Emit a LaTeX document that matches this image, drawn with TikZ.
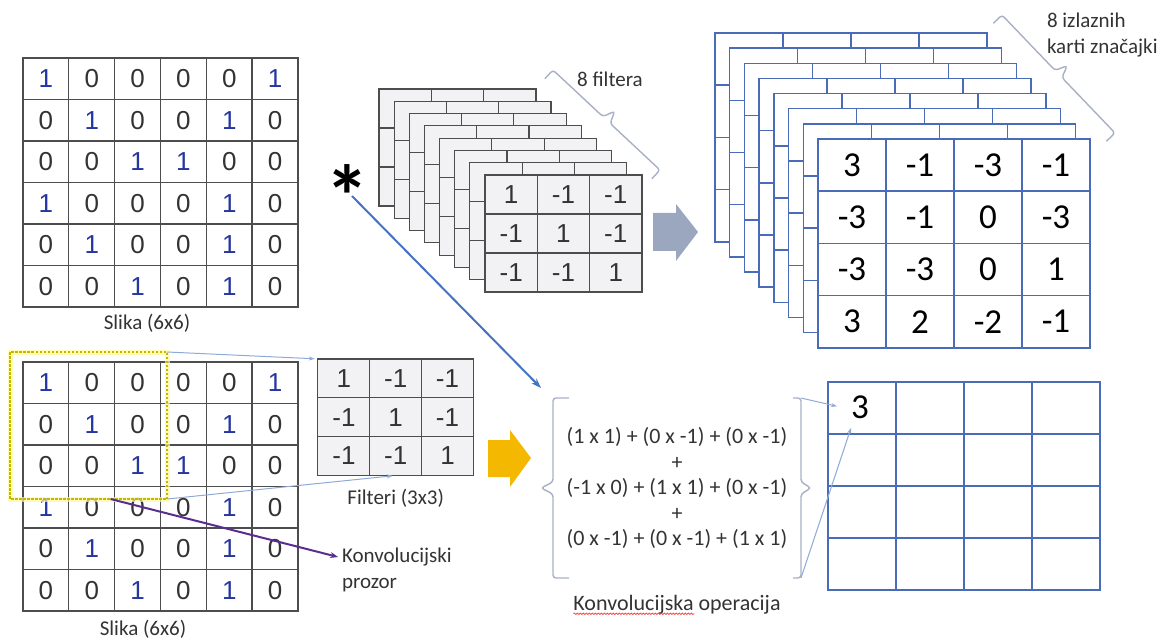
\documentclass[tikz,border=0pt]{standalone}
\usepackage{fontspec}
\setmainfont{Carlito}
\newfontfamily\arialfont{Liberation Sans}
\usetikzlibrary{arrows.meta,positioning,calc,decorations.pathmorphing}

\definecolor{gridgray}{HTML}{4D4D4D}
\definecolor{digitgray}{HTML}{333333}
\definecolor{oneblue}{HTML}{2536A0}
\definecolor{kfill}{HTML}{F2F2F5}
\definecolor{mapblue}{HTML}{4A6CB8}
\definecolor{linkblue}{HTML}{8FAAD6}
\definecolor{convblue}{HTML}{4472C4}
\definecolor{winpurple}{HTML}{5A2D91}
\definecolor{arrowgold}{HTML}{F5B800}
\definecolor{arrowslate}{HTML}{9BA6BF}
\definecolor{bracegray}{HTML}{A8B0C4}
\definecolor{wingold}{HTML}{C2B800}

\newcommand{\slikadata}{{1,0,0,0,0,1},{0,1,0,0,1,0},{0,0,1,1,0,0},{1,0,0,0,1,0},{0,1,0,0,1,0},{0,0,1,0,1,0}}
\newcommand{\filterdata}{{1,-1,-1},{-1,1,-1},{-1,-1,1}}
\newcommand{\mapdata}{{3,-1,-3,-1},{-3,-1,0,-3},{-3,-3,0,1},{3,2,-2,-1}}
\newcommand{\pix}[1]{\ifnum#1=1 \textcolor{oneblue}{#1}\else#1\fi}
% slanted brace between two named coordinates, tip pointing away from the stack
\newcommand{\stackbrace}[3]{%
  \coordinate (#3) at ($(#1)!0.5!(#2)$);
  \draw[bracket] ($(#1)!12pt!-90:(#2)$) -- (#1) -- ($(#3)!5pt!(#1)$) -- ($(#3)!12pt!90:(#2)$)
    -- ($(#3)!5pt!(#2)$) -- (#2) -- ($(#2)!12pt!90:(#1)$);}

\tikzset{
  every node/.style={inner sep=0pt, outer sep=0pt},
  pixcell/.style={draw=gridgray, line width=1.3pt, minimum width=45.8pt, minimum height=41.5pt,
    font=\arialfont\fontsize{26}{26}\selectfont, text=digitgray},
  kcell/.style={draw=gridgray, fill=kfill, line width=1.2pt, minimum width=52.3pt, minimum height=39pt,
    font=\arialfont\fontsize{26}{26}\selectfont, text=digitgray},
  mapcell/.style={draw=mapblue, fill=white, line width=1.5pt, minimum width=68pt, minimum height=52.2pt,
    font=\fontsize{35}{35}\selectfont},
  txt/.style={font=\fontsize{21}{26}\selectfont, text=black!80},
  link/.style={draw=linkblue, line width=1pt, -{Stealth[length=6pt,width=4pt]}, shorten >=3pt},
  convarrow/.style={draw=convblue, line width=2pt, -{Stealth[length=10pt,width=7pt]}},
  winarrow/.style={draw=winpurple, line width=2pt, -{Stealth[length=8pt,width=6pt]}, shorten >=4pt},
  bracket/.style={draw=bracegray, line width=1.4pt, rounded corners=3pt},
}

\begin{document}
\begin{tikzpicture}[x=1pt,y=-1pt]
  \useasboundingbox (0,0) rectangle (1165,639);

  % input image (top)
  \foreach \vals [count=\r] in \slikadata {
    \foreach \v [count=\c] in \vals {
      \node[pixcell] (top-\r-\c) at ({23+45.83*(\c-0.5)},{58+41.5*(\r-0.5)}) {\pix{\v}};
    }
  }
  \node[txt] (toplabel) at (147,323) {Slika (6x6)};

  % stack of 8 filters
  \foreach \k in {0,...,6} {
    \foreach \r in {1,2,3} {
      \foreach \c in {1,2,3} {
        \node[kcell] at ({379+15.14*\k+52.3*(\c-0.5)},{89+12.29*\k+39*(\r-0.5)}) {};
      }
    }
  }
  \foreach \vals [count=\r] in \filterdata {
    \foreach \v [count=\c] in \vals {
      \node[kcell] (f-\r-\c) at ({485+52.3*(\c-0.5)},{175+39*(\r-0.5)}) {\v};
    }
  }
  \coordinate (fbrace-a) at (553,70);
  \coordinate (fbrace-b) at (660,170);
  \stackbrace{fbrace-a}{fbrace-b}{fbrace-m}
  \node[txt] (filterlabel) at (610,79) {8 filtera};

  \node[anchor=north, font=\fontsize{88}{88}\selectfont\bfseries] (asterisk) at (347,165) {*};

  % gray block arrow
  \fill[arrowslate] (653,213) -- (676,213) -- (676,204) -- (698,232) -- (676,261) -- (676,251) -- (653,251) -- cycle;

  % stack of 8 feature maps
  \foreach \k in {0,...,6} {
    \foreach \r in {1,...,4} {
      \foreach \c in {1,...,4} {
        \node[mapcell] at ({715+14.71*\k+68*(\c-0.5)},{33+15.14*\k+52.2*(\r-0.5)}) {};
      }
    }
  }
  \foreach \vals [count=\r] in \mapdata {
    \foreach \v [count=\c] in \vals {
      \node[mapcell] (o-\r-\c) at ({818+68*(\c-0.5)},{139+52.2*(\r-0.5)}) {\v};
    }
  }
  \coordinate (obrace-a) at (1002,15);
  \coordinate (obrace-b) at (1115,133);
  \stackbrace{obrace-a}{obrace-b}{obrace-m}
  \node[txt, anchor=west, align=left] (maplabel) at (1047,35) {8 izlaznih\\karti značajki};

  % input image (bottom) with window
  \foreach \vals [count=\r] in \slikadata {
    \foreach \v [count=\c] in \vals {
      \node[pixcell] (bot-\r-\c) at ({23+45.83*(\c-0.5)},{362+41.5*(\r-0.5)}) {\pix{\v}};
    }
  }
  \node[txt] (botlabel) at (143,629) {Slika (6x6)};

  \node[minimum width=157pt, minimum height=147pt] (window) at (88.5,425.5) {};
  \draw[yellow!40, line width=5pt, opacity=0.7] (window.north west) rectangle (window.south east);
  \draw[wingold, line width=1.6pt, dash pattern=on 2.5pt off 1.5pt] (window.north west) rectangle (window.south east);

  % single filter
  \foreach \vals [count=\r] in \filterdata {
    \foreach \v [count=\c] in \vals {
      \node[kcell] (k-\r-\c) at ({318+51.8*(\c-0.5)},{359+38.8*(\r-0.5)}) {\v};
    }
  }
  \node[txt, below=14pt of k-3-2] (klabel) {Filteri (3x3)};

  \draw[link] (window.north east) -- (k-1-1.north west);
  \draw[link] (window.south east) -- (k-3-2.south);

  \node[txt, anchor=west, align=left] (convlabel) at (342,570) {Konvolucijski\\prozor};
  \draw[winarrow] ([xshift=22pt]window.south) -- ([yshift=12pt]convlabel.west);

  % gold block arrow
  \fill[arrowgold] (488,440) -- (510,440) -- (510,430) -- (531,458) -- (510,487) -- (510,477) -- (488,477) -- cycle;

  % convolution operation
  \node[txt, align=center, minimum width=248pt, minimum height=180pt,
        font=\fontsize{22}{25.5}\selectfont] (formula) at (677,488)
    {(1 x 1) + (0 x -1) + (0 x -1)\\+\\(-1 x 0) + (1 x 1) + (0 x -1)\\+\\(0 x -1) + (0 x -1) + (1 x 1)};
  \draw[bracket] ([xshift=16pt]formula.north west) -- (formula.north west) -- ([yshift=6pt]formula.west)
    -- ([xshift=-12pt]formula.west) -- ([yshift=-6pt]formula.west) -- (formula.south west) -- ([xshift=16pt]formula.south west);
  \draw[bracket] ([xshift=-8pt]formula.north east) -- (formula.north east) -- ([yshift=6pt]formula.east)
    -- ([xshift=10pt]formula.east) -- ([yshift=-6pt]formula.east) -- (formula.south east) -- ([xshift=-8pt]formula.south east);
  \node[txt, font=\fontsize{22}{26}\selectfont] (oplabel) at (677,605) {Konvolucijska operacija};
  \draw[red!80, line width=0.6pt, decorate, decoration={snake, amplitude=0.8pt, segment length=3pt}]
    ([yshift=-3pt]oplabel.base west) -- ++(121,0);

  \draw[convarrow] ([xshift=5pt,yshift=-31pt]asterisk.north) -- ([xshift=-12pt,yshift=10pt]formula.north west);

  % result map
  \foreach \r in {1,...,4} {
    \foreach \c in {1,...,4} {
      \node[mapcell] (res-\r-\c) at ({828+68*(\c-0.5)},{382+52*(\r-0.5)}) {};
    }
  }
  \node[font=\fontsize{35}{35}\selectfont] (three) at (860,407) {3};
  \draw[link] (formula.north east) -- ([xshift=-20pt]three.center);
  \draw[link] (formula.south east) -- ([xshift=-8pt,yshift=-18pt]three.center);
\end{tikzpicture}
\end{document}
